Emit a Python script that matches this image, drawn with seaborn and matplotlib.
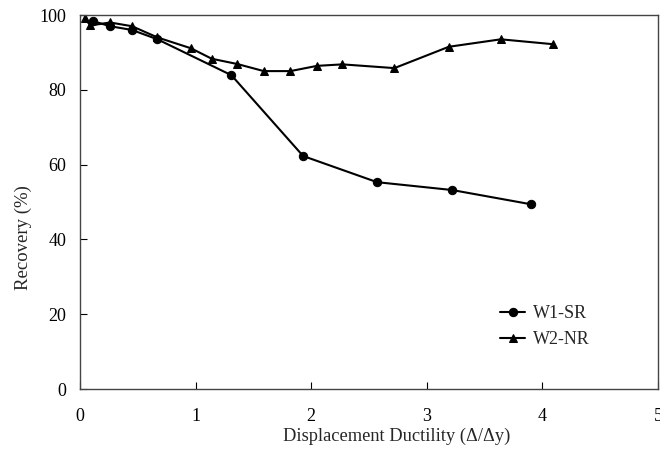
import matplotlib
matplotlib.use("Agg")
import matplotlib.pyplot as plt
import seaborn as sns
import pandas as pd

w1_x = [0.11, 0.26, 0.45, 0.67, 1.31, 1.93, 2.57, 3.22, 3.90]
w1_y = [98.4, 97.0, 96.0, 93.5, 83.9, 62.3, 55.3, 53.2, 49.4]
w2_x = [0.04, 0.09, 0.26, 0.45, 0.67, 0.96, 1.14, 1.36, 1.59, 1.82, 2.05, 2.27, 2.72, 3.19, 3.64, 4.09]
w2_y = [99.1, 97.2, 98.0, 97.0, 94.0, 91.1, 88.3, 86.9, 85.0, 85.0, 86.4, 86.8, 85.8, 91.5, 93.5, 92.2]
series_names = ["W1-SR", "W2-NR"]
x_ticks = [0, 1, 2, 3, 4, 5]
y_ticks = [0, 20, 40, 60, 80, 100]

sns.set_theme(style="white")
plt.rcParams["font.family"] = ["Liberation Serif", "DejaVu Serif"]

df1 = pd.DataFrame({"x": w1_x, "y": w1_y})
df2 = pd.DataFrame({"x": w2_x, "y": w2_y})

fig = plt.figure(figsize=(6.6, 4.61), dpi=100)
ax = fig.add_axes([80/660, 1-389/461, 578/660, 374/461])

sns.lineplot(data=df1, x="x", y="y", ax=ax, color="black", marker="o", markersize=6,
             markeredgecolor="black", linewidth=1.5, label=series_names[0], sort=False)
sns.lineplot(data=df2, x="x", y="y", ax=ax, color="black", marker="^", markersize=6,
             markeredgecolor="black", linewidth=1.5, label=series_names[1], sort=False)

ax.set_xlim(0, 5)
ax.set_ylim(0, 100)
ax.set_xticks(x_ticks)
ax.set_yticks(y_ticks)
ax.tick_params(axis="both", direction="in", length=5, width=0.8, colors="black",
               labelsize=13, bottom=True, left=True, top=False, right=False)
ax.tick_params(axis="x", pad=14)
ax.tick_params(axis="y", pad=10)
for s in ax.spines.values():
    s.set_color("#444444")
    s.set_linewidth(1.0)
ax.set_xlabel("Displacement Ductility (\u0394/\u0394y)", fontsize=13.2)
ax.set_ylabel("Recovery (%)", fontsize=13.5)
ax.xaxis.set_label_coords((397 - 80) / 578, (389 - 436) / 374)
ax.yaxis.set_label_coords((23 - 80) / 578, (389 - 238) / 374)
ax.xaxis.label.set_va("center")
ax.yaxis.label.set_va("center")
ax.grid(False)
leg = ax.legend(loc="upper left", bbox_to_anchor=(500/660, 1-305/461), bbox_transform=fig.transFigure,
                frameon=False, fontsize=13, borderaxespad=0, borderpad=0,
                handlelength=1.4, handletextpad=0.4, labelspacing=0.5)

fig.savefig("out.png", dpi=100)
